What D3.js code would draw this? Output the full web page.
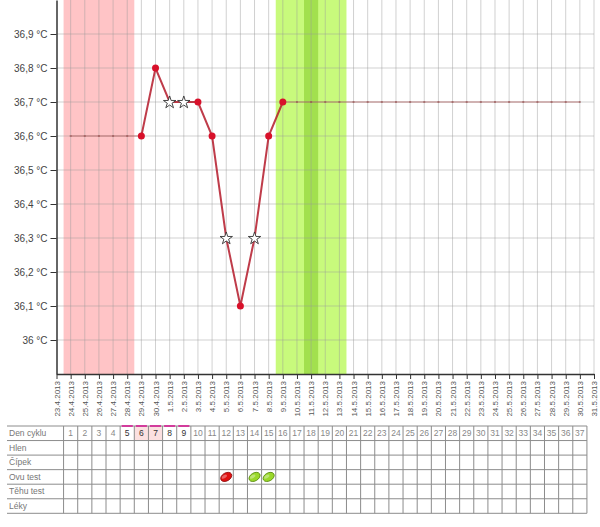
<!DOCTYPE html>
<html>
<head>
<meta charset="utf-8">
<script src="https://cdn.jsdelivr.net/npm/d3@7"></script>
<style>
body { margin: 0; background: #fff; }
text { font-family: "Liberation Sans", Arial, sans-serif; }
</style>
</head>
<body>
<svg id="chart" width="600" height="527"></svg>
<script>
// date labels, one per day (index 0 = 23.4.2013)
var dates = ["23.4.2013","24.4.2013","25.4.2013","26.4.2013","27.4.2013","28.4.2013","29.4.2013","30.4.2013",
  "1.5.2013","2.5.2013","3.5.2013","4.5.2013","5.5.2013","6.5.2013","7.5.2013","8.5.2013","9.5.2013","10.5.2013",
  "11.5.2013","12.5.2013","13.5.2013","14.5.2013","15.5.2013","16.5.2013","17.5.2013","18.5.2013","19.5.2013",
  "20.5.2013","21.5.2013","22.5.2013","23.5.2013","24.5.2013","25.5.2013","26.5.2013","27.5.2013","28.5.2013",
  "29.5.2013","30.5.2013","31.5.2013"];

var tempTicks = [36.0, 36.1, 36.2, 36.3, 36.4, 36.5, 36.6, 36.7, 36.8, 36.9];

// measured temperatures
var tempDays = [6, 7, 8, 9, 10, 11, 12, 13, 14, 15, 16];
var temps = [36.6, 36.8, 36.7, 36.7, 36.7, 36.6, 36.3, 36.1, 36.3, 36.6, 36.7];
var excluded = [false, false, true, true, false, false, true, false, true, false, false];

// thin guide lines before / after the measurements
var guideFrom = [1, 16];
var guideTo = [6, 37];
var guideTemps = [36.6, 36.7];

// shaded bands (day index)
var periodDays = [1, 5];
var fertileDays = [16, 20];
var ovulationDay = 18;

// table below
var rowLabels = ["Den cyklu", "Hlen", "Čípek", "Ovu test", "Těhu test", "Léky"];
var cycleDays = [1,2,3,4,5,6,7,8,9,10,11,12,13,14,15,16,17,18,19,20,21,22,23,24,25,26,27,28,29,30,31,32,33,34,35,36,37];
var markedDays = [5, 6, 7, 8, 9];
var shadedDays = [6, 7];
var ovuDays = [12, 14, 15];
var ovuResults = ["red", "green", "green"];

var svg = d3.select("#chart");
var plotTop = 0, plotBottom = 374;

var x = d3.scaleLinear().domain([0, dates.length - 1]).range([56.5, 594]);
var y = d3.scaleLinear().domain([35.9, 37.0]).range([plotBottom, plotTop]);

// bands
svg.append("rect")
    .attr("x", x(periodDays[0] - 0.5)).attr("y", plotTop)
    .attr("width", x(periodDays[1] + 0.5) - x(periodDays[0] - 0.5))
    .attr("height", plotBottom - plotTop)
    .attr("fill", "#ffc4c6");
svg.append("rect")
    .attr("x", x(fertileDays[0] - 0.5)).attr("y", plotTop)
    .attr("width", x(fertileDays[1] + 0.5) - x(fertileDays[0] - 0.5))
    .attr("height", plotBottom - plotTop)
    .attr("fill", "#c8fa7c");
svg.append("rect")
    .attr("x", x(ovulationDay - 0.5)).attr("y", plotTop)
    .attr("width", x(ovulationDay + 0.5) - x(ovulationDay - 0.5))
    .attr("height", plotBottom - plotTop)
    .attr("fill", "#a2e04e");

// grid
var grid = svg.append("g").attr("class", "grid");
grid.selectAll("line.v")
    .data(d3.range(1, dates.length))
  .enter().append("line")
    .attr("class", "v")
    .attr("x1", function(d) { return x(d); })
    .attr("x2", function(d) { return x(d); })
    .attr("y1", plotTop).attr("y2", plotBottom)
    .attr("stroke", "#999").attr("stroke-opacity", 0.45);
grid.selectAll("line.h")
    .data(tempTicks)
  .enter().append("line")
    .attr("class", "h")
    .attr("x1", x(0)).attr("x2", x(dates.length - 1))
    .attr("y1", function(d) { return y(d); })
    .attr("y2", function(d) { return y(d); })
    .attr("stroke", "#999").attr("stroke-opacity", 0.45);

// axes
var yAxis = d3.axisLeft(y)
    .tickValues(tempTicks)
    .tickSize(6)
    .tickSizeOuter(0)
    .tickFormat(function(d) { return d3.format(".3~g")(d).replace(".", ",") + " °C"; });
var gy = svg.append("g")
    .attr("transform", "translate(" + x(0) + ",0)")
    .call(yAxis);
gy.select(".domain").attr("stroke", "#333").attr("stroke-width", 1.5);
gy.selectAll(".tick line").attr("stroke", "#333");
gy.selectAll(".tick text").attr("fill", "#444").style("font-size", "10px")
    .style("font-family", "\"Liberation Sans\", Arial, sans-serif");

var xAxis = d3.axisBottom(x)
    .tickValues(d3.range(dates.length))
    .tickSize(5)
    .tickSizeOuter(0)
    .tickFormat(function(d) { return dates[d]; });
var gx = svg.append("g")
    .attr("transform", "translate(0," + plotBottom + ")")
    .call(xAxis);
gx.select(".domain").attr("stroke", "#333").attr("stroke-width", 1.5);
gx.selectAll(".tick line").attr("stroke", "#333");
gx.selectAll(".tick text")
    .attr("fill", "#555")
    .style("font-size", "8px")
    .style("font-family", "\"Liberation Sans\", Arial, sans-serif")
    .attr("text-anchor", "end")
    .attr("transform", "rotate(-90)")
    .attr("x", -7).attr("y", 0).attr("dy", "0.32em");

// guide lines
guideFrom.forEach(function(f, i) {
  var days = d3.range(f, guideTo[i] + 1);
  svg.append("line")
      .attr("x1", x(f)).attr("x2", x(guideTo[i]))
      .attr("y1", y(guideTemps[i])).attr("y2", y(guideTemps[i]))
      .attr("stroke", "#a85a5a").attr("stroke-width", 1).attr("stroke-opacity", 0.75);
  svg.selectAll(null)
      .data(days)
    .enter().append("line")
      .attr("x1", function(d) { return x(d) - 1; })
      .attr("x2", function(d) { return x(d) + 1; })
      .attr("y1", y(guideTemps[i])).attr("y2", y(guideTemps[i]))
      .attr("stroke", "#8a3a3a").attr("stroke-width", 1.5).attr("stroke-opacity", 0.6);
});

// temperature line
var pts = tempDays.map(function(d, i) { return { day: d, t: temps[i], ex: excluded[i] }; });
var line = d3.line()
    .x(function(d) { return x(d.day); })
    .y(function(d) { return y(d.t); });
svg.append("path")
    .datum(pts)
    .attr("d", line)
    .attr("fill", "none")
    .attr("stroke", "#b41a2a")
    .attr("stroke-opacity", 0.85)
    .attr("stroke-width", 2);

svg.selectAll("circle.pt")
    .data(pts.filter(function(d) { return !d.ex; }))
  .enter().append("circle")
    .attr("class", "pt")
    .attr("cx", function(d) { return x(d.day); })
    .attr("cy", function(d) { return y(d.t); })
    .attr("r", 3.5)
    .attr("fill", "#d8102a");

svg.selectAll("path.star")
    .data(pts.filter(function(d) { return d.ex; }))
  .enter().append("path")
    .attr("class", "star")
    .attr("transform", function(d) { return "translate(" + x(d.day) + "," + (y(d.t) + 0.5) + ")"; })
    .attr("d", d3.symbol().type(d3.symbolStar).size(48))
    .attr("fill", "#fff")
    .attr("stroke", "#333")
    .attr("stroke-width", 0.9);

// table
var tTop = 426, rowH = 14.55, labelLeft = 7;
var tRight = x(cycleDays[cycleDays.length - 1] + 0.5);
var table = svg.append("g");

table.selectAll("rect.shade")
    .data(shadedDays)
  .enter().append("rect")
    .attr("x", function(d) { return x(d - 0.5); })
    .attr("y", tTop)
    .attr("width", x(1) - x(0))
    .attr("height", rowH)
    .attr("fill", "#fbe0e0");

table.selectAll("line.row")
    .data(d3.range(rowLabels.length + 1))
  .enter().append("line")
    .attr("x1", labelLeft).attr("x2", tRight)
    .attr("y1", function(d) { return tTop + d * rowH; })
    .attr("y2", function(d) { return tTop + d * rowH; })
    .attr("stroke", "#8c8c8c");

table.selectAll("line.col")
    .data(cycleDays.concat([cycleDays.length + 1]))
  .enter().append("line")
    .attr("x1", function(d) { return x(d - 0.5); })
    .attr("x2", function(d) { return x(d - 0.5); })
    .attr("y1", tTop).attr("y2", tTop + rowLabels.length * rowH)
    .attr("stroke", "#8c8c8c");

table.selectAll("text.lab")
    .data(rowLabels)
  .enter().append("text")
    .attr("x", labelLeft + 2)
    .attr("y", function(d, i) { return tTop + i * rowH + rowH / 2; })
    .attr("dy", "0.35em")
    .attr("fill", "#777")
    .style("font-size", "8.5px")
    .text(function(d) { return d; });

table.selectAll("text.day")
    .data(cycleDays)
  .enter().append("text")
    .attr("x", function(d) { return x(d); })
    .attr("y", tTop + rowH / 2)
    .attr("dy", "0.35em")
    .attr("text-anchor", "middle")
    .attr("fill", function(d) { return markedDays.indexOf(d) >= 0 ? "#333" : "#888"; })
    .style("font-size", "8.5px")
    .text(function(d) { return d; });

table.selectAll("line.mark")
    .data(markedDays)
  .enter().append("line")
    .attr("x1", function(d) { return x(d - 0.5) + 1.5; })
    .attr("x2", function(d) { return x(d + 0.5) - 1.5; })
    .attr("y1", tTop).attr("y2", tTop)
    .attr("stroke", "#d23c9c").attr("stroke-width", 2);

var ovuY = tTop + 3 * rowH + rowH / 2;
var ovu = table.selectAll("g.ovu")
    .data(ovuDays.map(function(d, i) { return { day: d, res: ovuResults[i] }; }))
  .enter().append("g")
    .attr("transform", function(d) { return "translate(" + x(d.day) + "," + ovuY + ") rotate(-30)"; });
ovu.append("ellipse")
    .attr("rx", 6).attr("ry", 4)
    .attr("fill", function(d) { return d.res === "red" ? "#e01010" : "#9ad82a"; })
    .attr("stroke", function(d) { return d.res === "red" ? "#901010" : "#5a8a10"; })
    .attr("stroke-width", 0.8);
ovu.append("ellipse")
    .attr("cx", -1.5).attr("cy", -1.2)
    .attr("rx", 3).attr("ry", 1.5)
    .attr("fill", "#fff").attr("fill-opacity", 0.35);
</script>
</body>
</html>
